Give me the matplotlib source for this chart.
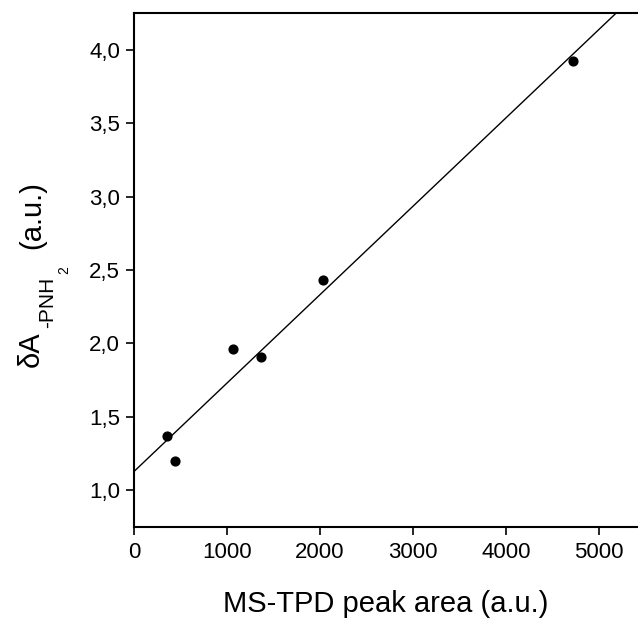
import matplotlib
matplotlib.use("Agg")
import matplotlib.pyplot as plt
import numpy as np

plt.rcParams['font.family'] = ['Liberation Sans', 'DejaVu Sans']

# measured points
peak_area = [351, 441, 1065, 1369, 2032, 4717]
delta_a = [1.37, 1.20, 1.96, 1.91, 2.43, 3.92]

# linear fit drawn in the figure
intercept = 1.128
slope = 6.02e-4

x_ticks = [0, 1000, 2000, 3000, 4000, 5000]
y_ticks = [1.0, 1.5, 2.0, 2.5, 3.0, 3.5, 4.0]

W, H = 638, 620
fig = plt.figure(figsize=(W / 100, H / 100), dpi=100)
ax = fig.add_axes([134 / W, 93 / H, 1 - 134 / W, 514 / H])

ax.scatter(peak_area, delta_a, s=40, color='black', zorder=3)
xf = np.array([0, 6000])
ax.plot(xf, intercept + slope * xf, color='black', lw=1.0)

ax.set_xlim(0, 5420)
ax.set_ylim(0.75, 4.25)
ax.set_xticks(x_ticks)
ax.set_yticks(y_ticks)
ax.set_yticklabels([f"{v:.1f}".replace('.', ',') for v in y_ticks])

ax.spines['right'].set_visible(False)
for s in ['left', 'bottom', 'top']:
    ax.spines[s].set_linewidth(1.5)
ax.tick_params(direction='out', length=6, width=1.2, labelsize=16, pad=4)
ax.tick_params(axis='x', pad=5)

ax.set_xlabel('MS-TPD peak area (a.u.)', fontsize=21, labelpad=19)

# y label built from pieces so the subscripts sit like in the original
kw = dict(rotation=90, rotation_mode='anchor', ha='left', va='baseline')
fig.text(39 / W, 253 / H, 'δA', fontsize=21, **kw)
fig.text(53 / W, 292 / H, '-PNH', fontsize=15, **kw)
fig.text(68 / W, 346 / H, '2', fontsize=10, **kw)
fig.text(40 / W, 371 / H, '(a.u.)', fontsize=21, **kw)

fig.savefig('out.png', dpi=100)
